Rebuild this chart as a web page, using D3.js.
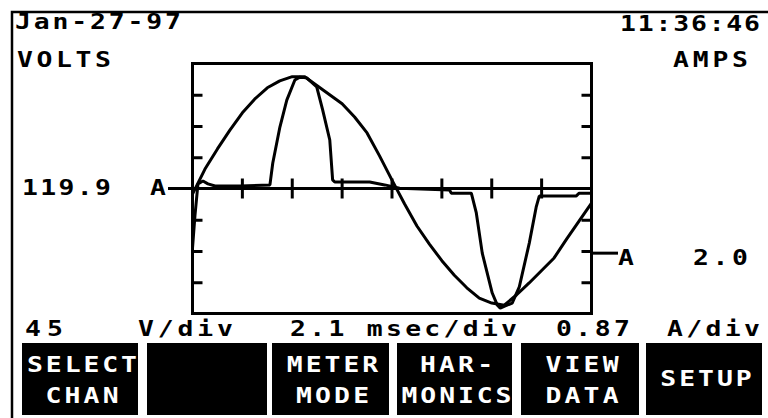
<!DOCTYPE html>
<html>
<head>
<meta charset="utf-8">
<script src="https://cdn.jsdelivr.net/npm/d3@7"></script>
<style>
  body { margin: 0; background: #fff; }
  svg { display: block; }
  text { font-family: "DejaVu Sans Mono", monospace; font-weight: bold; fill: #000; }
</style>
</head>
<body>
<div id="scope"></div>
<script>
var W = 768, H = 418;

// voltage trace, ms vs volts
var voltTime = [0, 0.525, 1.05, 1.575, 2.1, 2.625, 3.15, 3.675, 4.2, 4.725, 5.25, 5.775, 6.3, 6.825, 7.35, 7.875, 8.4, 8.925, 9.45, 9.975, 10.5, 11.025, 11.55, 12.075, 12.6, 13.125, 13.65, 14.175, 14.7, 15.225, 15.75, 16.275, 16.8];
var voltVals = [-8, 28, 57, 84, 109, 129, 145, 155, 161, 161, 148, 135, 122, 103, 80, 47, 12, -22, -54, -80, -104, -125, -143, -158, -165, -168, -153, -136, -118, -100, -73, -47, -21];

// current trace, ms vs amps
var ampTime = [0, 0.105, 0.23, 0.44, 0.65, 0.95, 2.0, 3.26, 3.38, 3.68, 3.97, 4.31, 4.52, 4.81, 5.23, 5.48, 5.78, 5.90, 5.99, 7.46, 8.09, 8.72, 10.82, 10.90, 11.74, 11.95, 12.20, 12.62, 12.83, 12.96, 13.17, 13.46, 13.76, 14.18, 14.47, 14.60, 16.15, 16.28, 16.8];
var ampVals = [-1.66, -0.74, 0.13, 0.21, 0.13, 0.07, 0.07, 0.10, 0.71, 1.71, 2.46, 3.02, 3.10, 3.08, 2.83, 2.19, 1.35, 0.24, 0.18, 0.18, 0.10, 0.01, -0.04, -0.13, -0.13, -0.68, -1.80, -2.91, -3.24, -3.33, -3.27, -3.19, -2.74, -1.52, -0.52, -0.21, -0.21, -0.13, -0.13];

var msPerDiv = 2.1, voltPerDiv = 45, ampPerDiv = 0.87;
var timeTicks = [2.1, 4.2, 6.3, 8.4, 10.5, 12.6, 14.7];
var voltTicks = [-135, -90, -45, 45, 90, 135];
var buttons = [["SELECT", "CHAN"], [], ["METER", "MODE"], ["HAR-", "MONICS"], ["VIEW", "DATA"], ["SETUP"]];

var svg = d3.select("#scope").append("svg")
  .attr("width", W).attr("height", H);

var x = d3.scaleLinear().domain([0, 8 * msPerDiv]).range([192.5, 591.5]);
var yV = d3.scaleLinear().domain([-4 * voltPerDiv, 4 * voltPerDiv]).range([313.5, 63.5]);
var yA = d3.scaleLinear().domain([-4 * ampPerDiv, 4 * ampPerDiv]).range([313.5, 63.5]);

// screen frame
svg.append("path")
  .attr("d", "M12,418V12H768")
  .attr("fill", "none").attr("stroke", "#000").attr("stroke-width", 2.5);

// plot box
svg.append("rect")
  .attr("x", x(0)).attr("y", yV(180))
  .attr("width", x(16.8) - x(0)).attr("height", yV(-180) - yV(180))
  .attr("fill", "none").attr("stroke", "#000").attr("stroke-width", 3);

// inner ticks on left and right edges
var ticksL = d3.axisRight(yV).tickValues(voltTicks).tickSize(10).tickFormat("");
var ticksR = d3.axisLeft(yV).tickValues(voltTicks).tickSize(10).tickFormat("");
svg.append("g").attr("transform", "translate(" + x(0) + ",0)").call(ticksL);
svg.append("g").attr("transform", "translate(" + x(16.8) + ",0)").call(ticksR);
svg.selectAll(".domain").remove();
svg.selectAll(".tick line").attr("stroke", "#000").attr("stroke-width", 3);

// centre line with its time ticks
svg.append("line")
  .attr("x1", 168).attr("x2", x(16.8))
  .attr("y1", yV(0)).attr("y2", yV(0))
  .attr("stroke", "#000").attr("stroke-width", 3);
svg.selectAll(".tt").data(timeTicks).enter().append("line")
  .attr("x1", function(d){ return x(d); }).attr("x2", function(d){ return x(d); })
  .attr("y1", yV(0) - 10).attr("y2", yV(0) + 10)
  .attr("stroke", "#000").attr("stroke-width", 3);

// current reference marker on the right
svg.append("line")
  .attr("x1", x(16.8)).attr("x2", 618)
  .attr("y1", yA(-1.8)).attr("y2", yA(-1.8))
  .attr("stroke", "#000").attr("stroke-width", 3);

var vLine = d3.line()
  .x(function(d, i){ return x(voltTime[i]); })
  .y(function(d){ return yV(d); });
var aLine = d3.line()
  .x(function(d, i){ return x(ampTime[i]); })
  .y(function(d){ return yA(d); });

svg.append("path").datum(voltVals).attr("d", vLine)
  .attr("fill", "none").attr("stroke", "#000").attr("stroke-width", 3).attr("stroke-linejoin", "bevel");
svg.append("path").datum(ampVals).attr("d", aLine)
  .attr("fill", "none").attr("stroke", "#000").attr("stroke-width", 3).attr("stroke-linejoin", "bevel");

// lcd-ish text: glyphs stretched wide, fitted to the width seen on screen
var sx = 1.2;
function label(t, x0, x1, y, col) {
  svg.append("g")
    .attr("transform", "translate(" + x0 + "," + y + ") scale(" + sx + ",1)")
    .append("text")
    .attr("x", 0).attr("y", 0)
    .attr("textLength", (x1 - x0) / sx).attr("lengthAdjust", "spacing")
    .style("font-size", "22px")
    .style("fill", col || "#000")
    .text(t);
}
label("Jan-27-97", 15, 181, 29);
label("11:36:46", 620, 760, 31);
label("VOLTS", 17, 111, 67);
label("AMPS", 673, 748, 67);
label("119.9", 22, 111, 195);
label("A", 150, 166, 195);
label("A", 618, 634, 265);
label("2.0", 693, 748, 265);
label("45", 25, 63, 336);
label("V/div", 138, 233, 336);
label("2.1 msec/div", 290, 517, 336);
label("0.87", 556, 630, 336);
label("A/div", 667, 760, 336);

// soft keys
var btnX = [[22, 138], [147, 267], [272, 389], [397, 512], [521, 639], [646, 762]];
var charW = 18.3;
buttons.forEach(function(b, i){
  var bx = btnX[i];
  svg.append("rect")
    .attr("x", bx[0]).attr("y", 343)
    .attr("width", bx[1] - bx[0]).attr("height", 72)
    .attr("fill", "#000");
  var ys = b.length == 2 ? [372, 403] : [386];
  b.forEach(function(t, j){
    var w = t.length * charW;
    var cx = (bx[0] + bx[1]) / 2;
    label(t, cx - w / 2 + 2, cx + w / 2 + 2, ys[j], "#fff");
  });
});
</script>
</body>
</html>
